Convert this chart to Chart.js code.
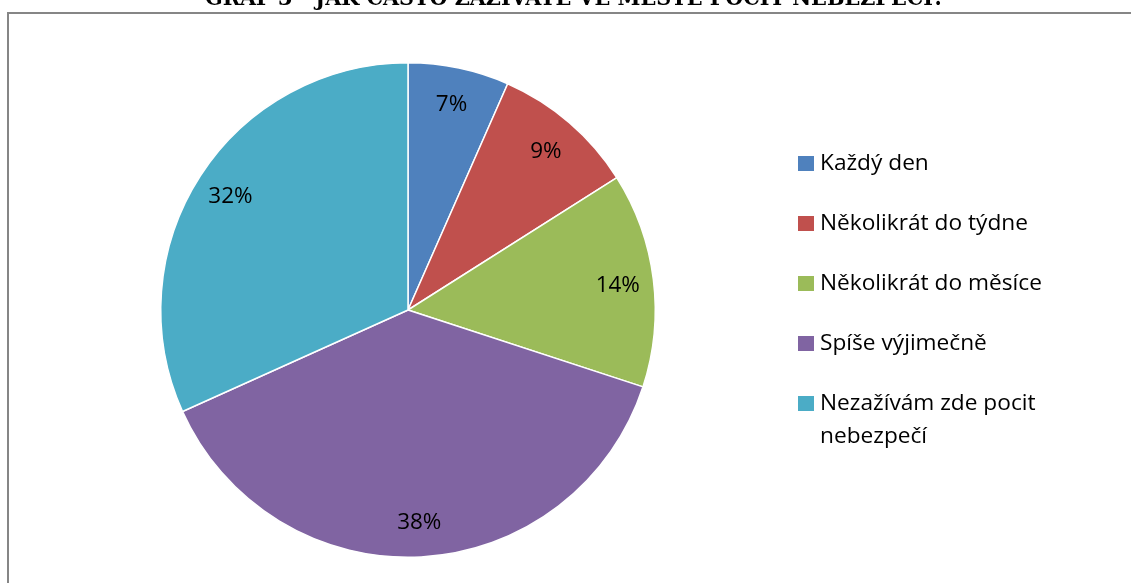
<!DOCTYPE html>
<html>
<head>
<meta charset="utf-8">
<script src="https://cdn.jsdelivr.net/npm/chart.js@4"></script>
<style>
  html, body { margin: 0; padding: 0; background: #fff; }
  #wrap { width: 1131px; height: 583px; position: relative; }
</style>
</head>
<body>
<div id="wrap"><canvas id="pie" width="1131" height="583"></canvas></div>
<script>
const TITLE = "GRAF 3 - JAK ČASTO ZAŽÍVÁTE VE MĚSTĚ POCIT NEBEZPEČÍ?";
const categories = [
  "Každý den",
  "Několikrát do týdne",
  "Několikrát do měsíce",
  "Spíše výjimečně",
  "Nezažívám zde pocit nebezpečí",
];
const legendLines = [
  ["Každý den"],
  ["Několikrát do týdne"],
  ["Několikrát do měsíce"],
  ["Spíše výjimečně"],
  ["Nezažívám zde pocit", "nebezpečí"],
];
const shares = [6.6, 9.4, 14.0, 38.2, 31.7];
const colors = ["#4F81BD", "#C0504D", "#9BBB59", "#8064A2", "#4BACC6"];

const FONT = "'Open Sans', Lato, sans-serif";

// text drawn a bit wider to mimic Calibri proportions
function wideText(ctx, text, x, y, sx) {
  ctx.save();
  ctx.translate(x, y);
  ctx.scale(sx, 1);
  ctx.fillText(text, 0, 0);
  ctx.restore();
}

// frame + cut-off title
const framePlugin = {
  id: "frame",
  beforeDraw(chart) {
    const ctx = chart.ctx;
    ctx.save();
    ctx.fillStyle = "#fff";
    ctx.fillRect(0, 0, chart.width, chart.height);
    ctx.strokeStyle = "#868686";
    ctx.lineWidth = 2;
    ctx.strokeRect(8, 13, chart.width + 20, chart.height + 20);
    ctx.font = "bold 22px 'DejaVu Serif', serif";
    const w = ctx.measureText(TITLE).width;
    ctx.translate(575, 5);
    ctx.scale(740 / w, 1);
    ctx.fillStyle = "#000";
    ctx.textAlign = "center";
    ctx.textBaseline = "alphabetic";
    ctx.fillText(TITLE, 0, 0);
    ctx.restore();
  },
};

// percent labels inside slices
const labelPlugin = {
  id: "pctLabels",
  afterDatasetsDraw(chart) {
    const ctx = chart.ctx;
    const meta = chart.getDatasetMeta(0);
    const total = shares.reduce((a, b) => a + b, 0);
    ctx.save();
    ctx.font = "21px " + FONT;
    ctx.fillStyle = "#000";
    ctx.textAlign = "center";
    ctx.textBaseline = "alphabetic";
    meta.data.forEach((arc, i) => {
      const p = arc.getProps(["x", "y", "startAngle", "endAngle", "outerRadius"], true);
      const mid = (p.startAngle + p.endAngle) / 2;
      const r = p.outerRadius * 0.855;
      const pct = Math.round((shares[i] / total) * 100);
      wideText(ctx, pct + "%", p.x + Math.cos(mid) * r, p.y + Math.sin(mid) * r + 8, 1.07);
    });
    ctx.restore();
  },
};

// legend on the right
const legendPlugin = {
  id: "sideLegend",
  afterDraw(chart) {
    const ctx = chart.ctx;
    ctx.save();
    ctx.font = "21px " + FONT;
    ctx.textBaseline = "alphabetic";
    legendLines.forEach((lines, i) => {
      const y = 170 + i * 60;
      ctx.fillStyle = colors[i];
      ctx.fillRect(798, y - 14, 16, 15);
      ctx.fillStyle = "#000";
      lines.forEach((t, j) => wideText(ctx, t, 820, y + j * 33, 1.08));
    });
    ctx.restore();
  },
};

new Chart(document.getElementById("pie"), {
  type: "pie",
  data: {
    labels: categories,
    datasets: [
      {
        data: shares,
        backgroundColor: colors,
        borderColor: "#fff",
        borderWidth: 1.5,
      },
    ],
  },
  options: {
    responsive: false,
    animation: false,
    layout: { padding: { left: 160, top: 62, right: 475, bottom: 25 } },
    plugins: {
      legend: { display: false },
      tooltip: { enabled: false },
    },
  },
  plugins: [framePlugin, labelPlugin, legendPlugin],
});
</script>
</body>
</html>
